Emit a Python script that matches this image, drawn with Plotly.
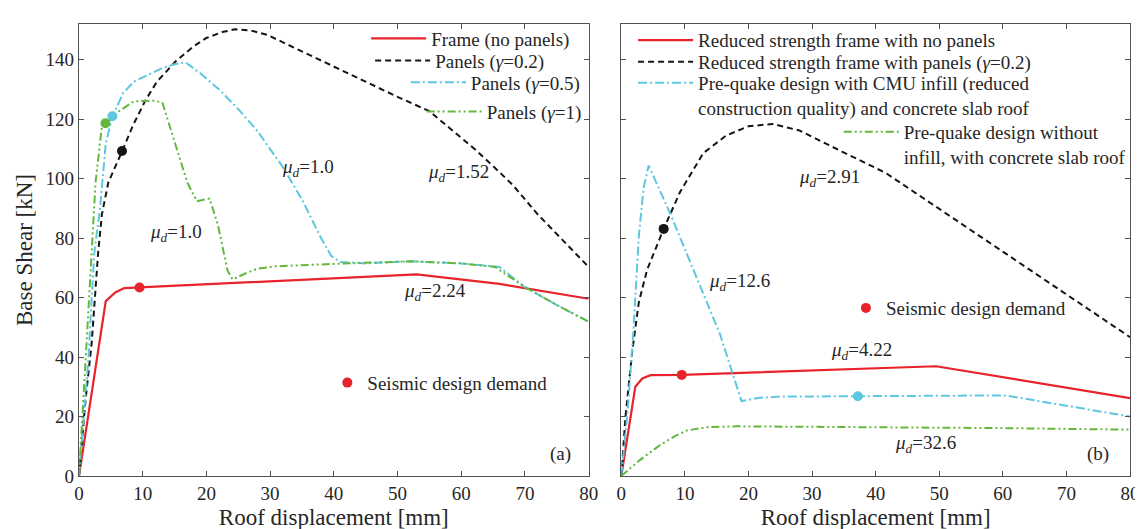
import plotly.graph_objects as go

# ---------------- data: panel (a) ----------------
frame_x = [0, 4.2, 5.7, 7.1, 9.5, 53, 66, 80]
frame_y = [0, 58.8, 61.7, 63.2, 63.4, 67.8, 64.6, 59.6]

p02_x = [0, 1, 2, 2.5, 3.0, 3.6, 4.6, 6.7, 8.5, 10.4, 12.2, 15.2, 18, 20, 22.5, 24.5,
         27, 29.5, 34.3, 40, 45, 50, 55, 62.3, 66, 68.2, 72, 76, 80]
p02_y = [0, 25, 45, 60, 75, 88, 98.7, 108.9, 118, 126.2, 132.5, 139.5, 144.5, 147.3, 149.3, 150.2,
         149.8, 148.4, 143.5, 137.8, 132.5, 127.5, 122.7, 109.6, 102.2, 97.6, 88, 79, 70.3]

p05_x = [0, 0.8, 1.5, 2, 2.4, 3.3, 4.2, 5.2, 6.9, 8.6, 12.8, 15, 16.7, 19, 22.1, 25.3, 28,
         31.9, 35, 38, 39.6, 41, 45, 52, 60, 66, 70, 75, 80]
p05_y = [0, 20, 40, 60, 75, 90, 111.8, 120.5, 128.7, 132.6, 136.9, 138.5, 139.1, 135.5, 129.8,
         122.7, 116, 104.2, 93, 80, 74, 72, 71.5, 72.2, 71.5, 70.3, 63.5, 57.5, 51.9]

p1_x = [0, 0.5, 1, 1.5, 1.8, 2.6, 3.6, 4.2, 6.3, 8.6, 11.9, 13.1, 15.2, 17, 18.5, 20.5, 21.8,
        23.3, 24.1, 26, 28, 30.7, 40.8, 52.2, 60, 65.3, 70, 75, 80]
p1_y = [0, 20, 40, 60, 68, 98.7, 117.8, 118.4, 122.7, 126, 126.2, 125.5, 110.7, 98.7, 92.4,
        93.3, 84.5, 69.2, 66.1, 68, 69.7, 70.5, 71.4, 72.2, 71.5, 70.3, 63.5, 57.5, 51.9]

a_demand_x = [9.5, 6.75, 5.24, 4.15]
a_demand_y = [63.4, 109.3, 121.0, 118.6]

# ---------------- data: panel (b) ----------------
rf_x = [0, 2.2, 3.3, 4.6, 9.5, 49.5, 80]
rf_y = [0, 30, 32.8, 33.9, 34.0, 36.9, 26.2]

rp_x = [0, 0.67, 1.72, 2.75, 4.06, 6.66, 9.26, 12.9, 16.5, 20, 23.8, 28, 34.7, 41.6, 80]
rp_y = [0, 20.2, 42, 58.4, 69.4, 83.1, 95.6, 108.6, 114.5, 117.6, 118.4, 116.2, 109.1, 101.9, 46.7]

rc_x = [0, 1.0, 1.87, 2.75, 3.5, 4.3, 7.7, 12.4, 15.5, 18.9, 21.7, 25, 37.2, 48, 60.4, 80]
rc_y = [0, 22, 47.8, 80.5, 96.9, 104.4, 88.2, 64.2, 47.8, 25.2, 26.3, 26.7, 26.8, 26.9, 27.1, 20.0]

rg_x = [0, 3.0, 6.1, 8.5, 10.3, 13.4, 18.1, 30, 44.8, 60, 80]
rg_y = [0, 5.5, 10.4, 13.5, 15.3, 16.4, 16.7, 16.6, 16.4, 16.1, 15.6]

b_demand_x = [9.5, 6.66, 37.2]
b_demand_y = [34.0, 83.1, 26.8]

x_ticks = [0, 10, 20, 30, 40, 50, 60, 70, 80]
y_ticks = [0, 20, 40, 60, 80, 100, 120, 140]

# ---------------- styles ----------------
RED = "#e8232b"
BLACK = "#151515"
CYAN = "#5ec7e0"
GREEN = "#63b83c"
TXT = "#262626"
FONT = "Liberation Serif"
DASH_K = "6px,4px"
DASH_C = "9px,3px,2px,3px"
DASH_G = "8px,3px,2px,3px,2px,3px"

fig = go.Figure()

def line(x, y, color, dash, name, xa, ya, lg, width=2):
    fig.add_trace(go.Scatter(x=x, y=y, mode="lines", name=name, xaxis=xa, yaxis=ya,
                             line=dict(color=color, dash=dash, width=width),
                             legend=lg, showlegend=True))

# panel a
line(frame_x, frame_y, RED, "solid", "Frame (no panels)", "x", "y", "legend", 2.2)
line(p02_x, p02_y, BLACK, DASH_K, "Panels (<i>γ</i>=0.2)", "x", "y", "legend2")
line(p05_x, p05_y, CYAN, DASH_C, "Panels (<i>γ</i>=0.5)", "x", "y", "legend3")
line(p1_x, p1_y, GREEN, DASH_G, "Panels (<i>γ</i>=1)", "x", "y", "legend4")
fig.add_trace(go.Scatter(x=a_demand_x, y=a_demand_y, mode="markers", xaxis="x", yaxis="y",
                         marker=dict(size=10, color=[RED, BLACK, CYAN, GREEN]),
                         showlegend=False))
fig.add_trace(go.Scatter(x=[None], y=[None], mode="markers", xaxis="x", yaxis="y",
                         marker=dict(size=10, color=RED), name="Seismic design demand",
                         legend="legend5", showlegend=True))

# panel b
line(rf_x, rf_y, RED, "solid", "Reduced strength frame with no panels", "x2", "y2", "legend6", 2.2)
line(rp_x, rp_y, BLACK, DASH_K, "Reduced strength frame with panels (<i>γ</i>=0.2)", "x2", "y2", "legend7")
line(rc_x, rc_y, CYAN, DASH_C,
     "Pre-quake design with CMU infill (reduced<br>construction quality) and concrete slab roof",
     "x2", "y2", "legend8")
line(rg_x, rg_y, GREEN, DASH_G,
     "Pre-quake design without<br>infill, with concrete slab roof", "x2", "y2", "legend9")
fig.add_trace(go.Scatter(x=b_demand_x, y=b_demand_y, mode="markers", xaxis="x2", yaxis="y2",
                         marker=dict(size=10, color=[RED, BLACK, CYAN]), showlegend=False))
fig.add_trace(go.Scatter(x=[None], y=[None], mode="markers", xaxis="x2", yaxis="y2",
                         marker=dict(size=10, color=RED), name="Seismic design demand",
                         legend="legend10", showlegend=True))

def leg(x, y, valign="middle", yanchor="middle"):
    return dict(x=x, y=y, xanchor="left", yanchor=yanchor, xref="paper", yref="paper",
                bgcolor="rgba(0,0,0,0)", borderwidth=0, itemwidth=55, valign=valign,
                font=dict(family=FONT, size=19, color=TXT), tracegroupgap=0)

def legm(x, y):
    d = leg(x, y)
    d["itemwidth"] = 30
    return d

axis_common = dict(showline=True, linecolor="#505050", linewidth=1.2, mirror="ticks",
                   ticks="inside", ticklen=5, tickcolor="#505050", showgrid=False,
                   zeroline=False, tickfont=dict(family=FONT, size=19, color=TXT))

title_font = dict(family=FONT, size=23, color=TXT)

fig.update_layout(
    width=1143, height=529,
    margin=dict(l=71, r=14, t=12, b=53),
    paper_bgcolor="white", plot_bgcolor="white",
    font=dict(family=FONT, size=19, color=TXT),
    xaxis=dict(domain=[0, 0.4849], range=[0, 80], tickvals=x_ticks,
               title=dict(text="Roof displacement [mm]", font=title_font, standoff=5),
               **axis_common),
    yaxis=dict(domain=[0, 1], range=[0, 152], tickvals=y_ticks,
               title=dict(text="Base Shear [kN]", font=title_font, standoff=6),
               **axis_common),
    xaxis2=dict(domain=[0.516, 1], range=[0, 80], tickvals=x_ticks, anchor="y2",
                title=dict(text="Roof displacement [mm]", font=title_font, standoff=5),
                **axis_common),
    yaxis2=dict(domain=[0, 1], range=[0, 152], tickvals=y_ticks, anchor="x2",
                showticklabels=False, **axis_common),
    legend=leg(0.2732, 0.9677),
    legend2=leg(0.2770, 0.919),
    legend3=leg(0.311, 0.8707),
    legend4=leg(0.326, 0.806),
    legend5=legm(0.2363, 0.2063),
    legend6=leg(0.5272, 0.9642),
    legend7=leg(0.5272, 0.916),
    legend8=leg(0.5272, 0.842, valign="top"),
    legend9=leg(0.7229, 0.7336, valign="top"),
    legend10=legm(0.7297, 0.3716),
)

ann_font = dict(family=FONT, size=19, color=TXT)
mu = "<i>μ</i><sub><i>d</i></sub>="
anns = [
    ("x", "y", 35.9, 103.5, mu + "1.0"),
    ("x", "y", 59.6, 101.9, mu + "1.52"),
    ("x", "y", 15.2, 81.6, mu + "1.0"),
    ("x", "y", 55.9, 62.0, mu + "2.24"),
    ("x", "y", 75.6, 7.3, "(a)"),
    ("x2", "y2", 32.8, 100.2, mu + "2.91"),
    ("x2", "y2", 18.6, 65.2, mu + "12.6"),
    ("x2", "y2", 37.7, 41.9, mu + "4.22"),
    ("x2", "y2", 47.9, 10.8, mu + "32.6"),
    ("x2", "y2", 75.0, 7.3, "(b)"),
]
for xr, yr, x, y, t in anns:
    fig.add_annotation(x=x, y=y, xref=xr, yref=yr, text=t, showarrow=False, font=ann_font)

fig.write_html("out.html")
